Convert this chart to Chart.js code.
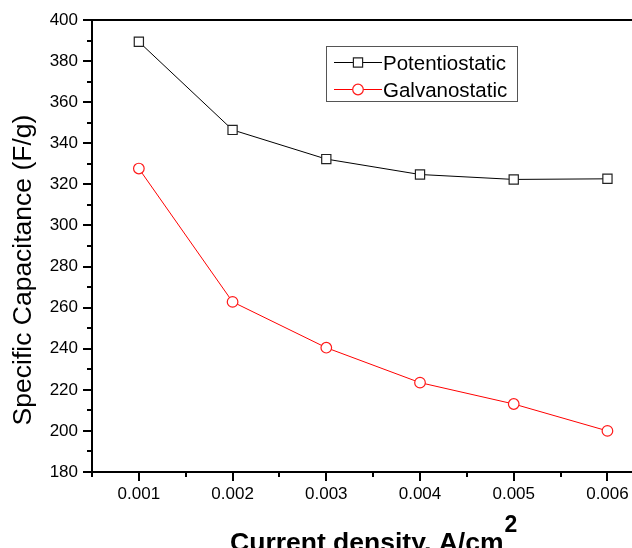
<!DOCTYPE html>
<html>
<head>
<meta charset="utf-8">
<script src="https://cdn.jsdelivr.net/npm/chart.js@4/dist/chart.umd.min.js"></script>
<style>
  html, body { margin: 0; padding: 0; background: #fff; overflow: hidden; }
  #wrap { width: 632px; height: 548px; overflow: hidden; }
</style>
</head>
<body>
<div id="wrap"><canvas id="chart" width="662" height="548"></canvas></div>
<script>
  "use strict";

  const currentDensity = [0.001, 0.002, 0.003, 0.004, 0.005, 0.006];
  const potentiostatic = [389.4, 346.5, 332.3, 324.8, 322.4, 322.7];
  const galvanostatic = [327.7, 262.8, 240.5, 223.5, 213.1, 200.0];
  const seriesNames = ["Potentiostatic", "Galvanostatic"];
  const xMinorTicks = [0.0005, 0.0015, 0.0025, 0.0035, 0.0045, 0.0055, 0.0065];
  const yMinorTicks = [190, 210, 230, 250, 270, 290, 310, 330, 350, 370, 390];

  const FONT = "'Liberation Sans', Arial, sans-serif";

  function toPoints(values) {
    return currentDensity.map((x, i) => ({ x: x, y: values[i] }));
  }

  // outward minor ticks, top frame line, axis titles, legend
  const decorations = {
    id: "decorations",
    afterDraw(chart) {
      const ctx = chart.ctx;
      const area = chart.chartArea;
      const xs = chart.scales.x;
      const ys = chart.scales.y;
      ctx.save();
      ctx.strokeStyle = "#000";
      ctx.lineWidth = 2;
      ctx.beginPath();
      ctx.moveTo(area.left - 1, area.top);
      ctx.lineTo(area.right, area.top);
      ctx.stroke();

      ctx.beginPath();
      xMinorTicks.forEach(function (v) {
        const px = Math.round(xs.getPixelForValue(v));
        ctx.moveTo(px, area.bottom);
        ctx.lineTo(px, area.bottom + 5);
      });
      yMinorTicks.forEach(function (v) {
        const py = Math.round(ys.getPixelForValue(v));
        ctx.moveTo(area.left, py);
        ctx.lineTo(area.left - 5, py);
      });
      ctx.stroke();

      // y title
      ctx.fillStyle = "#000";
      ctx.save();
      ctx.translate(31, 270);
      ctx.rotate(-Math.PI / 2);
      ctx.font = "26.5px " + FONT;
      ctx.textAlign = "center";
      ctx.textBaseline = "alphabetic";
      ctx.fillText("Specific Capacitance (F/g)", 0, 0);
      ctx.restore();

      // x title with superscript
      const main = "Current density, A/cm";
      ctx.font = "bold 26.5px " + FONT;
      const wMain = ctx.measureText(main).width;
      ctx.font = "bold 23px " + FONT;
      const wSup = ctx.measureText("2").width;
      const startX = (area.left + area.right) / 2 - (wMain + wSup) / 2;
      ctx.textAlign = "left";
      ctx.textBaseline = "alphabetic";
      ctx.font = "bold 26.5px " + FONT;
      ctx.fillText(main, startX, 551);
      ctx.font = "bold 23px " + FONT;
      ctx.fillText("2", startX + wMain + 1, 532);

      // legend
      const lx = area.left + 235;
      const ly = area.top + 26;
      ctx.lineWidth = 1;
      ctx.strokeStyle = "#555";
      ctx.strokeRect(lx - 0.5, ly + 0.5, 191, 55);
      chart.data.datasets.forEach(function (ds, i) {
        const rowY = ly + 16 + i * 27;
        ctx.strokeStyle = ds.borderColor;
        ctx.lineWidth = 1;
        ctx.beginPath();
        ctx.moveTo(lx + 7, rowY + 0.5);
        ctx.lineTo(lx + 55, rowY + 0.5);
        ctx.stroke();
        ctx.fillStyle = ds.pointBackgroundColor;
        ctx.strokeStyle = ds.pointBorderColor;
        ctx.lineWidth = ds.pointBorderWidth;
        Chart.helpers.drawPoint(ctx, {
          pointStyle: ds.pointStyle,
          radius: ds.pointRadius,
          rotation: 0,
          borderWidth: ds.pointBorderWidth
        }, lx + 31, rowY + 0.5);
        ctx.fillStyle = "#000";
        ctx.font = "20.5px " + FONT;
        ctx.textAlign = "left";
        ctx.textBaseline = "alphabetic";
        ctx.fillText(ds.label, lx + 56, rowY + 7.5);
      });
      ctx.restore();
    }
  };

  new Chart(document.getElementById("chart"), {
    type: "line",
    data: {
      datasets: [
        {
          label: seriesNames[0],
          data: toPoints(potentiostatic),
          borderColor: "#000",
          borderWidth: 1,
          pointStyle: "rect",
          pointRadius: 6.5,
          pointBorderWidth: 1.2,
          pointBorderColor: "#222",
          pointBackgroundColor: "#fff",
          tension: 0
        },
        {
          label: seriesNames[1],
          data: toPoints(galvanostatic),
          borderColor: "#ff0000",
          borderWidth: 1,
          pointStyle: "circle",
          pointRadius: 5.3,
          pointBorderWidth: 1.2,
          pointBorderColor: "#ff1a1a",
          pointBackgroundColor: "#fff",
          tension: 0
        }
      ]
    },
    options: {
      responsive: false,
      animation: false,
      devicePixelRatio: 1,
      layout: { padding: { left: 0, top: 20, right: 2, bottom: 0 } },
      plugins: { legend: { display: false }, tooltip: { enabled: false } },
      scales: {
        x: {
          type: "linear",
          min: 0.0005,
          max: 0.0065,
          afterBuildTicks(scale) {
            scale.ticks = currentDensity.map((v) => ({ value: v }));
          },
          afterFit(scale) {
            scale.height = 76;
            scale.paddingLeft = 0;
            scale.paddingRight = 0;
          },
          ticks: {
            color: "#000",
            padding: 3,
            maxRotation: 0,
            font: { family: FONT, size: 17 },
            callback: (v) => Number(v).toFixed(3)
          },
          grid: { drawOnChartArea: false, drawTicks: true, tickLength: 9, color: "#000", lineWidth: 2 },
          border: { display: true, color: "#000", width: 2 }
        },
        y: {
          min: 180,
          max: 400,
          afterFit(scale) {
            scale.width = 92;
            scale.paddingTop = 0;
            scale.paddingBottom = 0;
          },
          ticks: {
            stepSize: 20,
            color: "#000",
            padding: 5,
            font: { family: FONT, size: 17 }
          },
          grid: { drawOnChartArea: false, drawTicks: true, tickLength: 9, color: "#000", lineWidth: 2 },
          border: { display: true, color: "#000", width: 2 }
        }
      }
    },
    plugins: [decorations]
  });
</script>
</body>
</html>
